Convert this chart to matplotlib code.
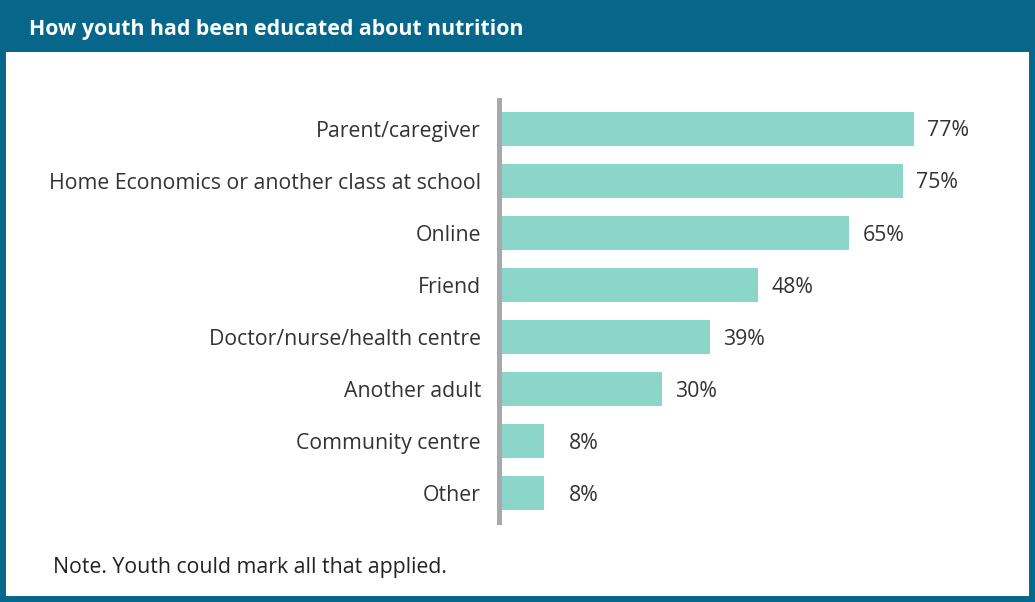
import matplotlib.pyplot as plt
from matplotlib.patches import Rectangle

# survey results
categories = [
    "Parent/caregiver",
    "Home Economics or another class at school",
    "Online",
    "Friend",
    "Doctor/nurse/health centre",
    "Another adult",
    "Community centre",
    "Other",
]
percent = [77, 75, 65, 48, 39, 30, 8, 8]

TEAL_DARK = "#06678b"
BAR = "#8cd5c9"
TEXT = "#333333"
W, H = 1035, 602
FS = 15.3

plt.rcParams['font.family'] = ['Open Sans', 'DejaVu Sans']

fig = plt.figure(figsize=(W / 100, H / 100), dpi=100)
fig.patch.set_facecolor("white")

# header band + frame
fig.add_artist(Rectangle((0, 1 - 52 / H), 1, 52 / H, transform=fig.transFigure,
                         facecolor=TEAL_DARK, edgecolor="none", zorder=0))
fig.add_artist(Rectangle((0, 0), 1, 1, transform=fig.transFigure, fill=False,
                         edgecolor=TEAL_DARK, linewidth=8.6, zorder=5))
fig.text(29 / W, 1 - 29 / H, "How youth had been educated about nutrition",
         color="white", fontsize=FS, fontweight="bold", va="center", ha="left")

# chart area
left, right = 501 / W, 1000 / W
bottom, top = 1 - 522 / H, 1 - 100 / H
ax = fig.add_axes([left, bottom, right - left, top - bottom])
ypos = list(range(len(categories)))
ax.barh(ypos, percent, height=0.65, color=BAR, zorder=2)
ax.set_xlim(0, (1000 - 501) / 5.36)
ax.set_ylim(len(categories) - 0.45, -0.55)

# value labels, right-aligned a fixed distance past the bar end
for y, v in zip(ypos, percent):
    ax.annotate(f"{v}%", xy=(v, y), xytext=(39.6, -1.6), textcoords="offset points",
                va="center", ha="right", fontsize=FS, color=TEXT)

ax.set_yticks(ypos)
ax.set_yticklabels(categories)
ax.tick_params(axis="y", length=0, pad=12.6, labelsize=FS, labelcolor=TEXT)
ax.set_xticks([])
for s in ["top", "right", "bottom"]:
    ax.spines[s].set_visible(False)
ax.spines["left"].set_color("#a7a9ac")
ax.spines["left"].set_linewidth(3.6)
ax.spines["left"].set_position(("outward", 1.8))
ax.set_facecolor("none")

fig.text(53 / W, 1 - 568 / H, "Note. Youth could mark all that applied.",
         fontsize=FS, color="#222222", va="center", ha="left")

fig.savefig("out.png", dpi=100)
